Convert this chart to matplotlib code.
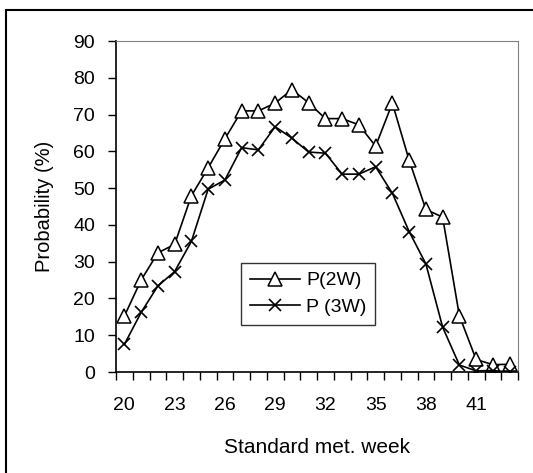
import numpy as np
import matplotlib.pyplot as plt
from matplotlib.patches import Rectangle

plt.rcParams['font.family'] = ['Liberation Sans', 'DejaVu Sans']

weeks = list(range(20, 44))
p2w = [15.2, 25.0, 32.4, 34.7, 47.9, 55.5, 63.4, 71.0, 71.0, 73.1, 76.8, 73.2,
       68.9, 68.9, 67.2, 61.4, 73.1, 57.6, 44.2, 42.1, 15.3, 3.4, 2.0, 2.1]
p3w = [7.5, 16.2, 23.4, 27.3, 35.5, 49.7, 52.2, 61.0, 60.4, 66.7, 63.6, 59.8,
       59.5, 53.8, 53.8, 55.8, 48.6, 38.2, 29.4, 12.2, 1.9, 0.3, 0.4, 0.0]
label_weeks = [20, 23, 26, 29, 32, 35, 38, 41]

fig = plt.figure(figsize=(5.33, 4.73), dpi=100)
ax = fig.add_axes([116/533, 1 - 372/473, 402/533, 331/473])

# outer chart frame (only left and top edges visible in the crop)
fig.patches.append(Rectangle((6/533, -0.05), 1.1, 1 - 10/473 + 0.05,
                             transform=fig.transFigure, fill=False,
                             edgecolor='black', linewidth=1.5))

x = np.arange(len(weeks))
ax.plot(x, p2w, color='black', lw=1.2, marker='^', ms=9.5, mfc='white',
        mec='black', mew=1.1, label='P(2W)')
ax.plot(x, p3w, color='black', lw=1.2, marker='x', ms=9, mew=1.2,
        label='P (3W)')

ax.set_xlim(-0.5, len(weeks) - 0.5)
ax.set_ylim(0, 90)
ax.set_yticks(range(0, 91, 10))
ax.set_xticks(np.arange(-0.5, len(weeks), 1.0))
ax.set_xticklabels([])
ax.set_xticks([weeks.index(w) for w in label_weeks], minor=True)
ax.set_xticklabels([str(w) for w in label_weeks], minor=True)
ax.tick_params(axis='x', which='major', direction='out', length=6, width=1)
ax.tick_params(axis='x', which='minor', length=0, pad=18, labelsize=14)
ax.tick_params(axis='y', direction='out', length=6, width=1, labelsize=14, pad=9)

for s in ['top', 'right']:
    ax.spines[s].set_color('#808080')
for s in ['left', 'bottom']:
    ax.spines[s].set_color('black')
    ax.spines[s].set_linewidth(1.2)

ax.set_xlabel('Standard met. week', fontsize=15, labelpad=17)
ax.set_ylabel('Probability (%)', fontsize=14.5, labelpad=14)

leg = ax.legend(loc='upper left', bbox_to_anchor=(0.311, 0.329), fontsize=14,
                handlelength=2.6, frameon=True, fancybox=False, edgecolor='black',
                borderpad=0.45, labelspacing=0.45, handletextpad=0.3,
                borderaxespad=0)
leg.get_frame().set_linewidth(1.0)

fig.savefig('out.png', dpi=100)
